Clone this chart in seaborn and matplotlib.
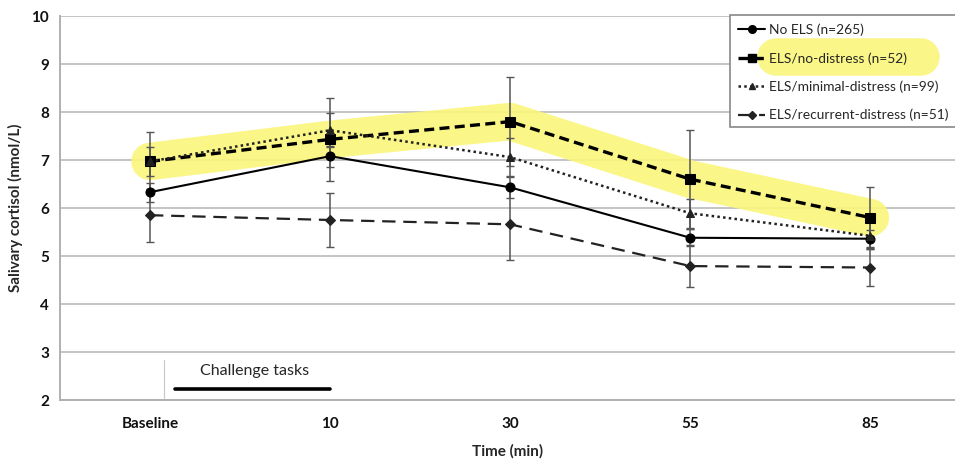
import matplotlib
matplotlib.use("Agg")
import matplotlib.pyplot as plt
import seaborn as sns
import numpy as np
import pandas as pd
from matplotlib.patches import Rectangle
from matplotlib.lines import Line2D

sns.set_theme(style="white")
plt.rcParams['font.family'] = ['Lato', 'DejaVu Sans']

time_labels = ["Baseline", "10", "30", "55", "85"]
no_els = [6.33, 7.08, 6.43, 5.38, 5.36]
no_els_err = [0.20, 0.22, 0.22, 0.18, 0.18]
no_distress = [6.97, 7.43, 7.80, 6.60, 5.80]
no_distress_err = [0.62, 0.87, 0.93, 1.03, 0.64]
minimal = [6.97, 7.62, 7.06, 5.89, 5.42]
minimal_err = [0.30, 0.35, 0.40, 0.30, 0.28]
recurrent = [5.85, 5.75, 5.66, 4.79, 4.76]
recurrent_err = [0.55, 0.56, 0.74, 0.43, 0.39]
labels = ["No ELS (n=265)", "ELS/no-distress (n=52)",
          "ELS/minimal-distress (n=99)", "ELS/recurrent-distress (n=51)"]

W, H = 955, 459
fig = plt.figure(figsize=(W / 100, H / 100), dpi=100)
ax = fig.add_axes([60 / W, (H - 400) / H, 895 / W, 384 / H])

def fx(px):
    return px / W

def fy(py):
    return 1 - py / H

pos = np.arange(len(time_labels))
series = [
    (no_els, no_els_err, dict(color="black", lw=1.5, ls="-", marker="o", ms=6.5)),
    (no_distress, no_distress_err, dict(color="black", lw=2.4, ls=(0, (3, 1.6)), marker="s", ms=6.5)),
    (minimal, minimal_err, dict(color="#222222", lw=1.8, ls=(0, (1, 1.3)), marker="^", ms=5.5)),
    (recurrent, recurrent_err, dict(color="#222222", lw=1.6, ls=(0, (6, 3.5)), marker="D", ms=5)),
]

# yellow highlight behind the no-distress series
ax.plot(pos, no_distress, color="#faf57a", lw=27, alpha=0.9,
        solid_capstyle="round", solid_joinstyle="round", zorder=1)

for vals, errs, st in series:
    ax.errorbar(pos, vals, yerr=errs, fmt="none", ecolor="#555555",
                elinewidth=1.1, capsize=3, capthick=1.0, zorder=2)

for (vals, errs, st), lab in zip(series, labels):
    df = pd.DataFrame({"pos": pos, "val": vals})
    sns.lineplot(data=df, x="pos", y="val", ax=ax, color=st["color"],
                 linewidth=st["lw"], linestyle=st["ls"], marker=st["marker"],
                 markersize=st["ms"], markeredgecolor=st["color"],
                 markerfacecolor=st["color"], zorder=3, legend=False)

ax.set_ylim(2, 10)
ax.set_xlim(-0.5, 4.47)
ax.set_yticks(range(2, 11))
ax.set_xticks(pos)
ax.set_xticklabels(time_labels)
ax.grid(axis="y", color="#c4c4c4", lw=1.4, zorder=0)
ax.grid(axis="x", visible=False)
for s in ["top", "right"]:
    ax.spines[s].set_visible(False)
for s in ["left", "bottom"]:
    ax.spines[s].set_color("#b0b0b0")
    ax.spines[s].set_linewidth(1.4)
ax.tick_params(axis="y", direction="out", length=5, width=1, color="#b0b0b0",
               pad=3, labelsize=11)
ax.tick_params(axis="x", direction="inout", length=7, width=1, color="#b0b0b0",
               pad=9, labelsize=11)
for t in ax.get_xticklabels() + ax.get_yticklabels():
    t.set_fontweight("bold")
    t.set_color("#111111")
ax.set_xlabel("Time (min)", fontsize=11, fontweight="bold", labelpad=9)
ax.set_ylabel("Salivary cortisol (nmol/L)", fontsize=11, fontweight="bold", labelpad=6)

# Challenge tasks annotation
ax.plot([0.078, 0.078], [2.04, 2.83], color="#c8c8c8", lw=0.8, zorder=2)
ax.plot([0.14, 1.0], [2.23, 2.23], color="black", lw=2.6, zorder=3)
ax.text(0.58, 2.6, "Challenge tasks", ha="center", va="center", fontsize=11.5)

# legend box
rect = Rectangle((fx(730), fy(127)), fx(240), fy(15) - fy(127),
                 transform=fig.transFigure, facecolor="white",
                 edgecolor="#888888", lw=1.2, zorder=6, clip_on=False)
ax.add_artist(rect)
hl = Line2D([fx(776), fx(921)], [fy(57), fy(57)], transform=fig.transFigure,
            color="#faf57a", lw=27, alpha=0.9, solid_capstyle="round",
            zorder=7, clip_on=False)
ax.add_artist(hl)
handles = [Line2D([], [], color=st["color"], lw=st["lw"], ls=st["ls"],
                  marker=st["marker"], ms=st["ms"] * 0.85) for _, _, st in series]
leg = ax.legend(handles, labels, loc="upper left",
                bbox_to_anchor=(fx(735), fy(21)), bbox_transform=fig.transFigure,
                frameon=False, fontsize=9.9, handlelength=2.0, handletextpad=0.25,
                labelspacing=1.15, borderaxespad=0, borderpad=0.2)
leg.set_zorder(8)

fig.savefig("out.png", dpi=100)
